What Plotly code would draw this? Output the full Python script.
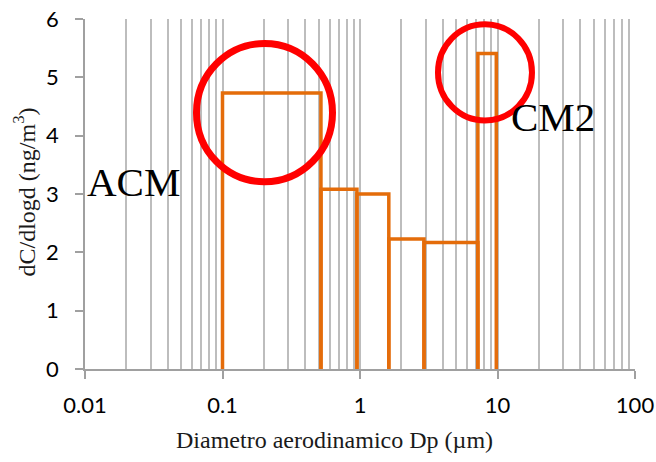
import plotly.graph_objects as go

# Impactor stage boundaries (µm) and dC/dlogd per stage (ng/m3)
bin_edges = [0.1, 0.52, 0.95, 1.62, 2.92, 7.2, 9.8]
dc_dlogd = [4.73, 3.08, 3.00, 2.23, 2.17, 5.41]

y_ticks = [0, 1, 2, 3, 4, 5, 6]
x_ticks = [0.01, 0.1, 1, 10, 100]
x_tick_labels = ["0.01", "0.1", "1", "10", "100"]

BAR_COLOR = "#E46C0A"
GRID = "#BDBDBD"
SERIF = "Liberation Serif, Times New Roman, serif"
SANS = "Lato, Open Sans, sans-serif"

fig = go.Figure()

# each stage drawn as an outlined rectangle from 0 up to its value
for lo, hi, v in zip(bin_edges[:-1], bin_edges[1:], dc_dlogd):
    fig.add_trace(go.Scatter(
        x=[lo, lo, hi, hi], y=[0, v, v, 0],
        mode="lines",
        line=dict(color=BAR_COLOR, width=3.5),
        showlegend=False, hoverinfo="skip",
    ))

fig.update_layout(
    width=656, height=462,
    margin=dict(l=85, r=21, t=19, b=93, autoexpand=False),
    paper_bgcolor="white", plot_bgcolor="white",
    showlegend=False,
    xaxis=dict(
        type="log", range=[-2, 2],
        tickvals=x_ticks, ticktext=x_tick_labels,
        ticks="outside", ticklen=8, tickcolor="#A0A0A0", tickwidth=1.5,
        showline=True, linecolor="#A0A0A0", linewidth=1.5,
        showgrid=True, gridcolor=GRID, gridwidth=1.5,
        minor=dict(dtick="D1", showgrid=True, gridcolor=GRID,
                   gridwidth=1.5, ticks=""),
        tickfont=dict(family=SANS, size=22, color="black"),
        ticklabelstandoff=8,
        zeroline=False,
    ),
    yaxis=dict(
        range=[0, 6], tickvals=y_ticks,
        ticks="outside", ticklen=8, tickcolor="#A0A0A0", tickwidth=1.5,
        showline=True, linecolor="#A0A0A0", linewidth=1.5,
        showgrid=False, zeroline=False,
        tickfont=dict(family=SANS, size=22, color="black"),
        ticklabelstandoff=12,
    ),
)

# highlight rings
fig.add_shape(type="circle", xref="paper", yref="paper",
              x0=0.2027, x1=0.45, y0=0.535, y1=0.93,
              line=dict(color="#FF0000", width=7))
fig.add_shape(type="circle", xref="paper", yref="paper",
              x0=0.6418, x1=0.8127, y0=0.71, y1=0.985,
              line=dict(color="#FF0000", width=6))

fig.add_annotation(text="ACM", xref="paper", yref="paper",
                   x=0.0, y=0.535, xanchor="left", yanchor="middle",
                   showarrow=False, font=dict(family=SERIF, size=41, color="black"))
fig.add_annotation(text="CM2", xref="paper", yref="paper",
                   x=0.7705, y=0.72, xanchor="left", yanchor="middle",
                   showarrow=False, font=dict(family=SERIF, size=41, color="black"))

fig.add_annotation(text="Diametro aerodinamico Dp (µm)", xref="paper", yref="paper",
                   x=0.4545, y=-0.2029, xanchor="center", yanchor="middle",
                   showarrow=False, font=dict(family=SERIF, size=24, color="#1a1a1a"))
fig.add_annotation(text="dC/dlogd (ng/m<sup>3</sup>)", xref="paper", yref="paper",
                   x=-0.11, y=0.5057, xanchor="center", yanchor="middle",
                   textangle=-90,
                   showarrow=False, font=dict(family=SERIF, size=24, color="#1a1a1a"))

fig.write_html("out.html")
